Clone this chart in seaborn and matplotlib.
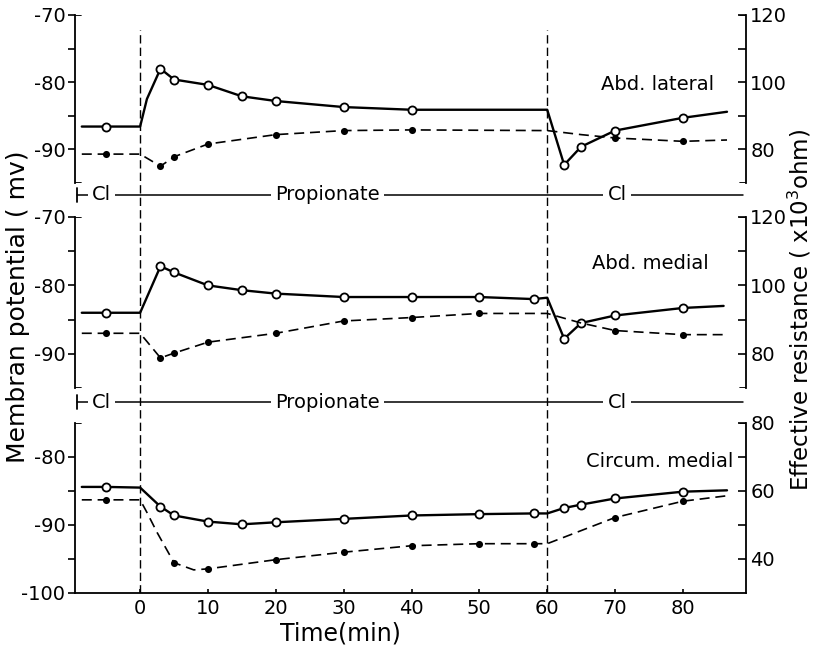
import numpy as np
import pandas as pd
import matplotlib
matplotlib.use("Agg")
import matplotlib.pyplot as plt
import seaborn as sns

# time axis (min)
x_min, x_max = -9.6, 89.3
switch_times = [0, 60]
solutions = ["Cl", "Propionate", "Cl"]
solution_label_t = [-5.7, 27.6, 70.3]

# ---- Abd. lateral ----
lat_pot_t = [-8.6, -5, 0, 1, 3, 5, 10, 15, 20, 30, 40, 60, 62.5, 65, 70, 80, 86.5]
lat_pot_v = [-86.6, -86.6, -86.6, -82.5, -78.0, -79.6, -80.4, -82.1, -82.8, -83.7, -84.1, -84.1, -92.3, -89.6, -87.2, -85.3, -84.4]
lat_pot_m = [0, 1, 0, 0, 1, 1, 1, 1, 1, 1, 1, 0, 1, 1, 1, 1, 0]
lat_res_t = [-8.6, -5, 0, 3, 5, 10, 20, 30, 40, 60, 65, 70, 80, 86.5]
lat_res_v = [78.6, 78.6, 78.6, 75.0, 77.8, 81.6, 84.4, 85.6, 85.8, 85.6, 84.4, 83.4, 82.4, 82.8]
lat_res_m = [0, 1, 0, 1, 1, 1, 1, 1, 1, 0, 0, 1, 1, 0]

# ---- Abd. medial ----
med_pot_t = [-8.6, -5, 0, 3, 5, 10, 15, 20, 30, 40, 50, 58, 60, 62.5, 65, 70, 80, 86]
med_pot_v = [-84.0, -84.0, -84.0, -77.2, -78.1, -80.0, -80.7, -81.2, -81.7, -81.7, -81.7, -82.0, -81.8, -87.8, -85.5, -84.4, -83.3, -83.0]
med_pot_m = [0, 1, 0, 1, 1, 1, 1, 1, 1, 1, 1, 1, 0, 1, 1, 1, 1, 0]
med_res_t = [-8.6, -5, 0, 3, 5, 10, 20, 30, 40, 50, 60, 65, 70, 80, 86]
med_res_v = [86.0, 86.0, 86.0, 78.8, 80.2, 83.4, 86.0, 89.6, 90.6, 91.8, 91.8, 89.0, 86.8, 85.6, 85.6]
med_res_m = [0, 1, 0, 1, 1, 1, 1, 1, 1, 1, 0, 0, 1, 1, 0]

# ---- Circum. medial ----
cir_pot_t = [-8.6, -5, 0, 3, 5, 10, 15, 20, 30, 40, 50, 58, 60, 62.5, 65, 70, 80, 86.5]
cir_pot_v = [-84.4, -84.4, -84.5, -87.3, -88.6, -89.5, -89.9, -89.6, -89.1, -88.6, -88.4, -88.3, -88.3, -87.5, -87.0, -86.1, -85.1, -84.9]
cir_pot_m = [0, 1, 0, 1, 1, 1, 1, 1, 1, 1, 1, 1, 0, 1, 1, 1, 1, 0]
cir_res_t = [-8.6, -5, 0, 1, 2.5, 5, 7.9, 10, 20, 30, 40, 50, 58, 60, 70, 80, 86.5]
cir_res_v = [57.4, 57.4, 57.4, 53.7, 47.8, 38.9, 36.8, 37.1, 39.8, 42.0, 43.9, 44.5, 44.5, 44.5, 52.2, 57.0, 58.6]
cir_res_m = [0, 1, 0, 0, 0, 1, 0, 1, 1, 1, 1, 1, 1, 0, 1, 1, 0]

panels = [
    dict(name="Abd. lateral", pot=(lat_pot_t, lat_pot_v, lat_pot_m), res=(lat_res_t, lat_res_v, lat_res_m),
         ylim=(-95, -70), ymaj=[-90, -80, -70], ymin=[-85, -75],
         rlim=(70, 120), rmaj=[80, 100, 120], rmin=[90, 110], label_xy=(84.6, -80.3)),
    dict(name="Abd. medial", pot=(med_pot_t, med_pot_v, med_pot_m), res=(med_res_t, med_res_v, med_res_m),
         ylim=(-95, -70), ymaj=[-90, -80, -70], ymin=[-85, -75],
         rlim=(70, 120), rmaj=[80, 100, 120], rmin=[90, 110], label_xy=(83.8, -76.8)),
    dict(name="Circum. medial", pot=(cir_pot_t, cir_pot_v, cir_pot_m), res=(cir_res_t, cir_res_v, cir_res_m),
         ylim=(-100, -75), ymaj=[-100, -90, -80], ymin=[-95, -85],
         rlim=(30, 80), rmaj=[40, 60, 80], rmin=[50, 70], label_xy=(87.4, -80.7)),
]

sns.set_theme(style="ticks")
plt.rcParams["font.family"] = ["DejaVu Sans"]
plt.rcParams["axes.linewidth"] = 1.3
plt.rcParams["axes.unicode_minus"] = False
plt.rcParams["text.color"] = "black"
plt.rcParams["xtick.color"] = "black"
plt.rcParams["ytick.color"] = "black"
plt.rcParams["axes.edgecolor"] = "black"

fig = plt.figure(figsize=(8.14, 6.5), dpi=100)
W, H = 814, 650
left, right = 75, 746
boxes = [(15, 183), (217, 388), (423, 593)]


def draw_series(ax, t, v, m, dashed, open_marker):
    df = pd.DataFrame({"t": t, "v": v, "m": m})
    if dashed:
        sns.lineplot(data=df, x="t", y="v", ax=ax, color="black", lw=1.2, sort=False,
                     estimator=None, dashes=False, linestyle=(0, (6, 3.5)))
    else:
        sns.lineplot(data=df, x="t", y="v", ax=ax, color="black", lw=1.7, sort=False, estimator=None)
    mk = df[df["m"] == 1]
    if open_marker:
        sns.scatterplot(data=mk, x="t", y="v", ax=ax, s=34, facecolor="white",
                        edgecolor="black", linewidth=1.3, zorder=5)
    else:
        sns.scatterplot(data=mk, x="t", y="v", ax=ax, s=26, color="black",
                        edgecolor="black", linewidth=0, zorder=5)


for i, (p, (top, bot)) in enumerate(zip(panels, boxes)):
    ax = fig.add_axes([left / W, 1 - bot / H, (right - left) / W, (bot - top) / H])
    ax.set_facecolor("none")
    ax2 = ax.twinx()
    draw_series(ax, *p["pot"], dashed=False, open_marker=True)
    draw_series(ax2, *p["res"], dashed=True, open_marker=False)
    ax.set_xlim(x_min, x_max)
    ax.set_ylim(*p["ylim"])
    ax2.set_ylim(*p["rlim"])
    ax.set_yticks(p["ymaj"])
    ax.set_yticks(p["ymin"], minor=True)
    ax2.set_yticks(p["rmaj"])
    ax2.set_yticks(p["rmin"], minor=True)
    ax.set_xlabel("")
    ax.set_ylabel("")
    ax2.set_ylabel("")
    ax.tick_params(axis="y", which="both", direction="out", length=5, width=1.2,
                   labelsize=14, pad=2)
    ax2.tick_params(axis="y", which="both", direction="in", length=6, width=1.2,
                    labelsize=14, pad=3)
    for s in ["top", "right"]:
        ax.spines[s].set_visible(False)
    for s in ["top", "left", "bottom"]:
        ax2.spines[s].set_visible(False)
    last = i == len(panels) - 1
    if last:
        ax.set_xticks([0, 10, 20, 30, 40, 50, 60, 70, 80])
        ax.tick_params(axis="x", direction="in", length=3, width=1.2, labelsize=14, pad=4)
    else:
        ax.spines["bottom"].set_visible(False)
        ax.set_xticks([])
    # end caps on the spines
    ax.axhline(p["ylim"][1], xmin=0, xmax=0.009, color="black", lw=1.3)
    ax2.axhline(p["rlim"][1], xmin=0.991, xmax=1, color="black", lw=1.3)
    if not last:
        ax.axhline(p["ylim"][0], xmin=0, xmax=0.009, color="black", lw=1.3)
        ax2.axhline(p["rlim"][0], xmin=0.991, xmax=1, color="black", lw=1.3)
    lx, ly = p["label_xy"]
    ax.text(lx, ly, p["name"], ha="right", va="center", fontsize=14)

# overlay for solution-change lines and the solution bars
ov = fig.add_axes([left / W, 1 - 593 / H, (right - left) / W, (593 - 15) / H])
ov.set_xlim(x_min, x_max)
ov.set_ylim(0, 1)
ov.axis("off")
ov.patch.set_alpha(0)
for ts in switch_times:
    ov.axvline(ts, ymin=0, ymax=(593 - 30) / 578, color="black", lw=1.0, linestyle=(0, (6, 3)))
for ysep in [(593 - 195) / 578, (593 - 402) / 578]:
    ov.axhline(ysep, xmin=0.003, xmax=0.996, color="black", lw=1.1)
    ov.axvline(x_min + 0.25, ymin=ysep - 0.012, ymax=ysep + 0.012, color="black", lw=1.3)
    for name, tx in zip(solutions, solution_label_t):
        ov.text(tx, ysep, name, ha="center", va="center", fontsize=14,
                bbox=dict(facecolor="white", edgecolor="none", pad=3))

fig.text(18 / W, 1 - 307 / H, "Membran potential ( mv)", rotation=90, ha="center", va="center", fontsize=18)
fig.text(800 / W, 1 - 310 / H, "Effective resistance ( x10$^3$ohm)", rotation=90, ha="center",
         va="center", fontsize=16.5)
fig.text(340 / W, 1 - 633 / H, "Time(min)", ha="center", va="center", fontsize=17)

fig.savefig("out.png", dpi=100)
